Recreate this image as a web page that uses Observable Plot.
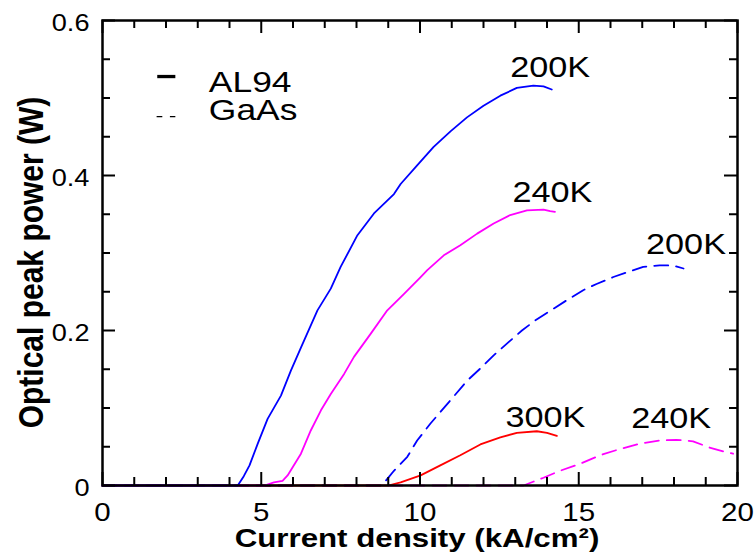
<!DOCTYPE html>
<html>
<head>
<meta charset="utf-8">
<script src="https://cdn.jsdelivr.net/npm/d3@7"></script>
<script src="https://cdn.jsdelivr.net/npm/@observablehq/plot@0.6"></script>
<style>
  html, body { margin: 0; padding: 0; background: #fff; }
</style>
</head>
<body>
<div id="chart"></div>
<script>
// ---- data ----
const al94_200K_x = [0, 4.26, 4.45, 4.63, 4.89, 5.2, 5.62, 5.93, 6.25, 6.77, 7.19, 7.5, 8.03, 8.55, 9.18, 9.39, 9.91, 10.43, 10.96, 11.48, 12.0, 12.53, 13.05, 13.57, 13.89, 14.15];
const al94_200K_y = [0, 0, 0.012, 0.026, 0.054, 0.086, 0.116, 0.148, 0.178, 0.226, 0.254, 0.282, 0.323, 0.351, 0.376, 0.389, 0.413, 0.437, 0.457, 0.475, 0.490, 0.503, 0.513, 0.516, 0.515, 0.511];

const al94_240K_x = [0, 5.1, 5.4, 5.67, 5.83, 6.25, 6.56, 6.88, 7.19, 7.61, 7.92, 8.45, 8.97, 9.49, 10.02, 10.23, 10.75, 11.27, 11.8, 12.32, 12.84, 13.37, 13.89, 14.1, 14.25];
const al94_240K_y = [0, 0, 0.004, 0.006, 0.013, 0.041, 0.071, 0.097, 0.118, 0.144, 0.166, 0.196, 0.226, 0.247, 0.269, 0.278, 0.297, 0.310, 0.325, 0.338, 0.349, 0.355, 0.356, 0.354, 0.353];

const al94_300K_x = [0, 9.0, 9.39, 10.02, 10.64, 11.27, 11.9, 12.53, 13.05, 13.68, 14.0, 14.31];
const al94_300K_y = [0, 0, 0.004, 0.013, 0.026, 0.039, 0.053, 0.062, 0.068, 0.070, 0.068, 0.064];

const gaas_200K_x = [0, 8.8, 9.18, 9.6, 9.91, 10.33, 10.96, 11.48, 11.9, 12.32, 12.79, 13.21, 13.63, 14.2, 14.62, 15.14, 15.56, 16.09, 16.51, 17.03, 17.55, 17.97, 18.3];
const gaas_200K_y = [0, 0, 0.019, 0.037, 0.058, 0.080, 0.110, 0.135, 0.151, 0.168, 0.185, 0.200, 0.213, 0.228, 0.239, 0.252, 0.260, 0.269, 0.275, 0.282, 0.284, 0.284, 0.280];

const gaas_240K_x = [0, 13.26, 13.89, 14.41, 15.04, 15.67, 16.29, 16.92, 17.55, 18.07, 18.6, 19.12, 19.65, 19.86];
const gaas_240K_y = [0, 0, 0.010, 0.019, 0.028, 0.039, 0.047, 0.054, 0.058, 0.059, 0.057, 0.049, 0.043, 0.041];

const curveLabels = ["200K", "240K", "300K", "200K", "240K"];
const curveLabelX = [14.1, 14.17, 13.95, 18.38, 17.91];
const curveLabelY = [0.539, 0.378, 0.088, 0.311, 0.086];

const legendNames = ["AL94", "GaAs"];

const xTicksMajor = [0, 5, 10, 15, 20];
const xTicksMinor = [1, 2, 3, 4, 6, 7, 8, 9, 11, 12, 13, 14, 16, 17, 18, 19];
const yTicksMajor = [0, 0.2, 0.4, 0.6];
const yTicksMinor = [0.05, 0.1, 0.15, 0.25, 0.3, 0.35, 0.45, 0.5, 0.55];

const xTitle = "Current density (kA/cm²)";
const yTitle = "Optical peak power (W)";

// ---- build ----
const zip = (xs, ys) => xs.map((x, i) => ({x, y: ys[i]}));

const W = 755, H = 560;
const mL = 102, mR = 18, mT = 20, mB = 75;
const fw = W - mL - mR, fh = H - mT - mB;
const major = 13, minor = 8;

const lineOpts = {x: "x", y: "y", strokeWidth: 1.8, strokeLinejoin: "round"};

const chart = Plot.plot({
  width: W, height: H,
  marginLeft: mL, marginRight: mR, marginTop: mT, marginBottom: mB,
  style: {fontFamily: "'Liberation Sans', Arial, sans-serif", background: "#fff", color: "#000"},
  x: {domain: [0, 20]},
  y: {domain: [0, 0.6]},
  marks: [
    // curves
    Plot.line(zip(gaas_240K_x, gaas_240K_y), {...lineOpts, stroke: "#ff00ff", strokeDasharray: "14,8"}),
    Plot.line(zip(gaas_200K_x, gaas_200K_y), {...lineOpts, stroke: "#0000ff", strokeDasharray: "14,8"}),
    Plot.line(zip(al94_300K_x, al94_300K_y), {...lineOpts, stroke: "#ff0000"}),
    Plot.line(zip(al94_240K_x, al94_240K_y), {...lineOpts, stroke: "#ff00ff"}),
    Plot.line(zip(al94_200K_x, al94_200K_y), {...lineOpts, stroke: "#0000ff"}),
    // inward ticks, all four sides
    Plot.tickX(xTicksMajor, {x: d => d, insetTop: fh - major, strokeWidth: 2}),
    Plot.tickX(xTicksMinor, {x: d => d, insetTop: fh - minor, strokeWidth: 2}),
    Plot.tickX(xTicksMajor, {x: d => d, insetBottom: fh - major, strokeWidth: 2}),
    Plot.tickX(xTicksMinor, {x: d => d, insetBottom: fh - minor, strokeWidth: 2}),
    Plot.tickY(yTicksMajor, {y: d => d, insetRight: fw - major, strokeWidth: 2}),
    Plot.tickY(yTicksMinor, {y: d => d, insetRight: fw - minor, strokeWidth: 2}),
    Plot.tickY(yTicksMajor, {y: d => d, insetLeft: fw - major, strokeWidth: 2}),
    Plot.tickY(yTicksMinor, {y: d => d, insetLeft: fw - minor, strokeWidth: 2}),
    Plot.frame({stroke: "#000", strokeWidth: 2.5}),
    // tick labels
    Plot.axisX({anchor: "bottom", ticks: xTicksMajor, tickSize: 0, tickPadding: 18, fontSize: 25, tickFormat: d => String(d), label: null}),
    Plot.axisY({anchor: "left", ticks: yTicksMajor, tickSize: 0, tickPadding: 13, fontSize: 23, dy: 3, tickFormat: d => d === 0 ? "0" : String(d), label: null}),
    // axis titles
    Plot.text([xTitle], {frameAnchor: "bottom", textAnchor: "middle", lineAnchor: "middle", dy: 53, dx: -3, fontSize: 26.5, fontWeight: "bold"}),
    Plot.text([yTitle], {frameAnchor: "left", textAnchor: "middle", lineAnchor: "middle", rotate: -90, dx: -71, dy: 9.5, fontSize: 30, fontWeight: "bold"}),
    // curve labels
    Plot.text(curveLabels, {x: (d, i) => curveLabelX[i], y: (d, i) => curveLabelY[i], fontSize: 29}),
    // legend
    Plot.ruleY([0.5277], {x1: 1.74, x2: 2.31, strokeWidth: 3.3}),
    Plot.ruleY([0.476], {x1: 1.72, x2: 2.31, strokeWidth: 1.4, strokeDasharray: "5.7,7.6"}),
    Plot.text(legendNames, {x: 3.35, y: (d, i) => [0.52, 0.4845][i], textAnchor: "start", fontSize: 30})
  ]
});

document.getElementById("chart").append(chart);

// the reference text is horizontally wide: stretch every label about its anchor
const S = 1.18;
const sr = chart.getBoundingClientRect();
chart.querySelectorAll("text").forEach(t => {
  const r = t.getBoundingClientRect();
  const anchor = getComputedStyle(t).textAnchor;
  const old = t.getAttribute("transform") || "";
  let px;
  if (old.includes("rotate") || anchor === "middle") px = r.left + r.width / 2;
  else if (anchor === "end") px = r.right;
  else px = r.left;
  const ctm = t.parentNode.getCTM();
  const lx = (px - sr.left - (ctm ? ctm.e : 0)) / (ctm ? ctm.a : 1);
  t.setAttribute("transform", `translate(${lx},0) scale(${S},1) translate(${-lx},0) ${old}`);
});
</script>
</body>
</html>
